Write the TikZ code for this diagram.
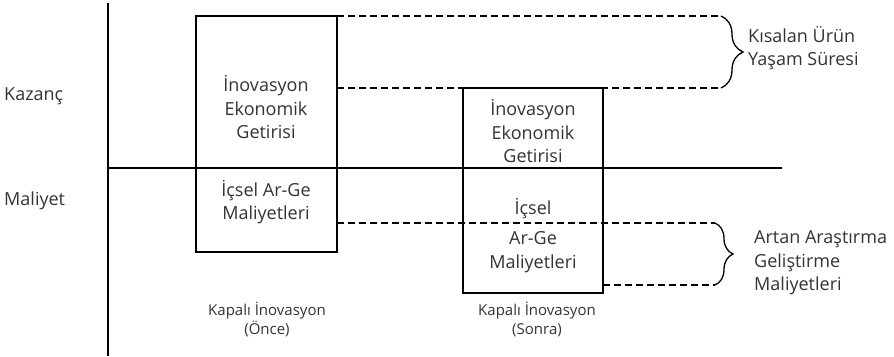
\documentclass[tikz,border=0pt]{standalone}
\usepackage{fontspec}
\setmainfont{Open Sans}
\usetikzlibrary{decorations.pathreplacing}
\definecolor{txtgray}{HTML}{333333}

\tikzset{
  box/.style={draw,line width=1.5pt,inner sep=0pt},
  lbl/.style={text=txtgray,align=center,inner sep=0pt,
    font=\fontsize{18}{23.5}\selectfont},
  side/.style={lbl,align=left,anchor=west},
  small/.style={lbl,font=\fontsize{15}{19}\selectfont},
  dashline/.style={line width=1.3pt,dash pattern=on 7pt off 4pt},
  curly/.style={line width=1.3pt,decorate,decoration={brace,amplitude=#1}},
}

\begin{document}
\begin{tikzpicture}[x=1pt,y=-1pt]
  \useasboundingbox (0,0) rectangle (894,356);

  % axes
  \coordinate (top) at (108,3);
  \coordinate (bottom) at (108,356);
  \coordinate (left) at (108,168);
  \coordinate (right) at (782,168);
  \draw[line width=1.5pt] (top) -- (bottom);
  \draw[line width=1.5pt] (left) -- (right);
  \node[lbl,anchor=west] (kazanc) at (4,96) {Kazanç};
  \node[lbl,anchor=west] (maliyet) at (4,201) {Maliyet};

  % before
  \draw[box] (196,16) rectangle (337,168);
  \draw[box] (196,168) rectangle (337,252);
  \coordinate (b1ne) at (337,16);
  \coordinate (b1e) at (337,88);
  \coordinate (b1se) at (337,223);
  \node[lbl] (gain1) at (266,107) {İnovasyon\\Ekonomik\\Getirisi};
  \node[lbl] (cost1) at (266,202) {İçsel Ar-Ge\\Maliyetleri};
  \node[small] (before) at (267,319) {Kapalı İnovasyon\\(Önce)};

  % after
  \draw[box] (463,88) rectangle (603,168);
  \draw[box] (463,168) rectangle (603,293);
  \coordinate (b2se) at (603,285);
  \node[lbl] (gain2) at (533,131) {İnovasyon\\Ekonomik\\Getirisi};
  \node[lbl] (cost2a) at (533,209) {İçsel};
  \node[lbl] (cost2b) at (533,252) {Ar-Ge\\Maliyetleri};
  \node[small] (after) at (537,319) {Kapalı İnovasyon\\(Sonra)};

  % shorter life
  \coordinate (br1t) at (721,16);
  \coordinate (br1b) at (721,88);
  \draw[dashline] (b1ne) -- (br1t);
  \draw[dashline] (b1e) -- (br1b);
  \draw[curly=22pt] (br1t) -- (br1b);
  \node[side] (life) at (748,48) {Kısalan Ürün\\Yaşam Süresi};

  % rising cost
  \coordinate (br2t) at (715,223);
  \coordinate (br2b) at (715,285);
  \draw[dashline] (b1se) -- (br2t);
  \draw[dashline] (b2se) -- (br2b);
  \draw[curly=18pt] (br2t) -- (br2b);
  \node[side] (rise) at (754,263) {Artan Araştırma\\Geliştirme\\Maliyetleri};
\end{tikzpicture}
\end{document}
